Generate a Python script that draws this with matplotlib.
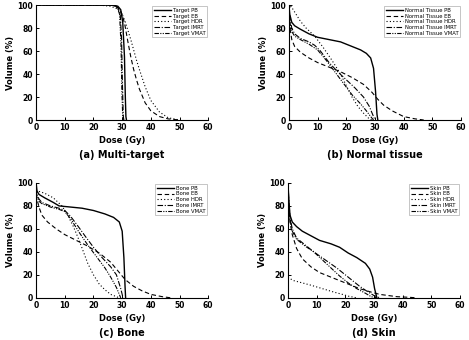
import matplotlib.pyplot as plt

# dose (Gy) / volume (%) points
tgt_pb_d = [0, 27, 28.5, 29.5, 30.2, 30.8, 31.1, 31.3, 31.5]
tgt_pb_v = [100, 100, 99, 96, 85, 55, 20, 3, 0]
tgt_eb_d = [0, 27, 29, 30, 31, 32, 33, 34, 35, 36, 38, 40, 43, 46, 50]
tgt_eb_v = [100, 100, 97, 92, 82, 68, 55, 44, 35, 27, 15, 8, 3, 1, 0]
tgt_hdr_d = [0, 22, 26, 28, 30, 31, 32, 33, 34, 35, 36, 38, 40, 43, 46, 50]
tgt_hdr_v = [100, 100, 99, 97, 92, 86, 78, 70, 61, 52, 44, 29, 17, 7, 2, 0]
tgt_imrt_d = [0, 27, 28.5, 29.3, 29.8, 30.1, 30.4, 30.6]
tgt_imrt_v = [100, 100, 98, 93, 70, 30, 3, 0]
tgt_vmat_d = [0, 26.5, 28.3, 29.1, 29.6, 29.9, 30.2, 30.4]
tgt_vmat_v = [100, 100, 98, 92, 65, 25, 2, 0]

nt_pb_d = [0, 0.3, 1, 2, 4, 7, 10, 14, 18, 22, 25, 27, 28.5, 29.5, 30.2, 30.7, 31]
nt_pb_v = [100, 92, 85, 82, 79, 75, 72, 70, 68, 64, 61, 58, 54, 45, 25, 5, 0]
nt_eb_d = [0, 0.5, 1, 2, 4, 7, 10, 14, 18, 22, 26, 29, 31, 33, 36, 40, 44, 47]
nt_eb_v = [92, 78, 70, 64, 59, 54, 50, 46, 42, 37, 31, 24, 18, 13, 8, 3, 1, 0]
nt_hdr_d = [0, 0.5, 2, 4, 6, 9, 12, 15, 18, 20, 22, 24, 26, 28, 29]
nt_hdr_v = [95, 100, 94, 86, 80, 73, 63, 52, 40, 30, 20, 12, 6, 1, 0]
nt_imrt_d = [0, 0.3, 1, 2, 4, 7, 9, 11, 14, 17, 20, 23, 26, 28, 29.5, 30]
nt_imrt_v = [100, 90, 80, 75, 71, 68, 65, 60, 50, 42, 35, 28, 20, 12, 3, 0]
nt_vmat_d = [0, 0.3, 1, 2, 4, 7, 10, 13, 16, 19, 22, 25, 27, 28.5, 29.5]
nt_vmat_v = [95, 85, 77, 73, 70, 66, 61, 52, 42, 32, 22, 14, 8, 3, 0]

bn_pb_d = [0, 0.3, 1, 3, 6, 8, 12, 16, 20, 24, 27, 29, 30, 30.6, 31, 31.2]
bn_pb_v = [100, 93, 90, 87, 83, 80, 79, 78, 76, 73, 70, 66, 58, 35, 10, 0]
bn_eb_d = [0, 0.5, 1, 2, 4, 7, 10, 14, 18, 22, 26, 29, 31, 34, 37, 40, 44, 47]
bn_eb_v = [90, 84, 79, 72, 66, 60, 55, 50, 45, 39, 31, 22, 16, 10, 6, 3, 1, 0]
bn_hdr_d = [0, 0.5, 3, 6, 9, 11, 13, 15, 16.5, 18, 20, 22, 24, 26, 28, 29]
bn_hdr_v = [94, 93, 91, 87, 80, 72, 62, 50, 40, 30, 20, 12, 7, 3, 1, 0]
bn_imrt_d = [0, 0.3, 1, 2, 5, 8, 10, 12, 15, 17, 20, 23, 26, 28, 29.5, 30.3]
bn_imrt_v = [96, 90, 86, 83, 80, 78, 76, 71, 61, 54, 44, 35, 27, 20, 8, 0]
bn_vmat_d = [0, 0.3, 1, 2, 5, 8, 10, 12, 15, 18, 21, 24, 26, 28, 29.5]
bn_vmat_v = [93, 88, 84, 82, 79, 77, 75, 69, 57, 46, 36, 26, 18, 9, 0]

sk_pb_d = [0, 0.3, 0.7, 1.5, 3, 5, 8, 11, 15, 18, 21, 24, 27, 28.5, 29.5, 30.2, 31]
sk_pb_v = [100, 85, 72, 66, 62, 58, 54, 50, 47, 44, 39, 35, 30, 25, 18, 8, 0]
sk_eb_d = [0, 0.3, 0.7, 1.5, 3, 5, 8, 11, 15, 20, 25, 29, 32, 35, 38, 42, 45]
sk_eb_v = [100, 80, 66, 55, 43, 34, 27, 22, 18, 13, 8, 5, 3, 2, 1, 0.5, 0]
sk_hdr_d = [0, 0.5, 2, 5, 8, 12, 16, 19, 21, 23, 24]
sk_hdr_v = [18, 17, 15, 13, 11, 8, 5, 3, 1.5, 0.5, 0]
sk_imrt_d = [0, 0.3, 0.7, 1.5, 3, 6, 9, 13, 17, 21, 25, 28, 30, 32]
sk_imrt_v = [100, 85, 70, 60, 52, 46, 40, 33, 26, 18, 10, 5, 2, 0]
sk_vmat_d = [0, 0.3, 0.7, 1.5, 3, 6, 9, 12, 15, 18, 21, 24, 27, 29, 31]
sk_vmat_v = [95, 80, 68, 58, 51, 45, 40, 33, 26, 19, 13, 8, 4, 1, 0]

methods = ["PB", "EB", "HDR", "IMRT", "VMAT"]
panels = [
    ("Target", "(a) Multi-target",
     [(tgt_pb_d, tgt_pb_v), (tgt_eb_d, tgt_eb_v), (tgt_hdr_d, tgt_hdr_v),
      (tgt_imrt_d, tgt_imrt_v), (tgt_vmat_d, tgt_vmat_v)]),
    ("Normal Tissue", "(b) Normal tissue",
     [(nt_pb_d, nt_pb_v), (nt_eb_d, nt_eb_v), (nt_hdr_d, nt_hdr_v),
      (nt_imrt_d, nt_imrt_v), (nt_vmat_d, nt_vmat_v)]),
    ("Bone", "(c) Bone",
     [(bn_pb_d, bn_pb_v), (bn_eb_d, bn_eb_v), (bn_hdr_d, bn_hdr_v),
      (bn_imrt_d, bn_imrt_v), (bn_vmat_d, bn_vmat_v)]),
    ("Skin", "(d) Skin",
     [(sk_pb_d, sk_pb_v), (sk_eb_d, sk_eb_v), (sk_hdr_d, sk_hdr_v),
      (sk_imrt_d, sk_imrt_v), (sk_vmat_d, sk_vmat_v)]),
]

styles = [
    dict(linestyle="-", linewidth=1.0),
    dict(linestyle=(0, (4, 2.5)), linewidth=0.8),
    dict(linestyle=(0, (1, 2)), linewidth=0.8),
    dict(linestyle=(0, (5, 1.5, 1, 1.5)), linewidth=0.8),
    dict(linestyle=(0, (4, 1.2, 1, 1.2, 1, 1.2)), linewidth=0.8),
]

# axes rectangles (left, bottom, width, height) in figure fraction
rects = [
    (0.077, 0.647, 0.367, 0.338),
    (0.616, 0.647, 0.367, 0.338),
    (0.077, 0.124, 0.367, 0.338),
    (0.614, 0.124, 0.367, 0.338),
]
title_y = [0.543, 0.543, 0.022, 0.022]

fig = plt.figure(figsize=(4.69, 3.40), dpi=100)

for (prefix, title, curves), rect, ty in zip(panels, rects, title_y):
    ax = fig.add_axes(rect)
    for (d, v), st, m in zip(curves, styles, methods):
        ax.plot(d, v, color="black", label=f"{prefix} {m}", **st)
    ax.set_xlim(0, 60)
    ax.set_ylim(0, 100)
    ax.set_xticks(range(0, 61, 10))
    ax.set_yticks(range(0, 101, 20))
    for s in ["top", "right"]:
        ax.spines[s].set_visible(False)
    for s in ["left", "bottom"]:
        ax.spines[s].set_linewidth(0.8)
    ax.tick_params(direction="in", length=2.5, width=0.7, labelsize=5.5, pad=2)
    for lab in ax.get_xticklabels() + ax.get_yticklabels():
        lab.set_fontweight("bold")
    ax.set_xlabel("Dose (Gy)", fontsize=6, fontweight="bold", labelpad=3)
    ax.set_ylabel("Volume (%)", fontsize=6, fontweight="bold", labelpad=2)
    leg = ax.legend(loc="upper right", fontsize=3.8, frameon=True, fancybox=False,
                    handlelength=3.2, handletextpad=0.4, borderpad=0.3,
                    labelspacing=0.15, borderaxespad=0.2)
    leg.get_frame().set_edgecolor("#999999")
    leg.get_frame().set_linewidth(0.5)
    fig.text(rect[0] + rect[2] / 2, ty, title, ha="center", va="center",
             fontsize=7, fontweight="bold")

fig.savefig("out.png", dpi=100)
